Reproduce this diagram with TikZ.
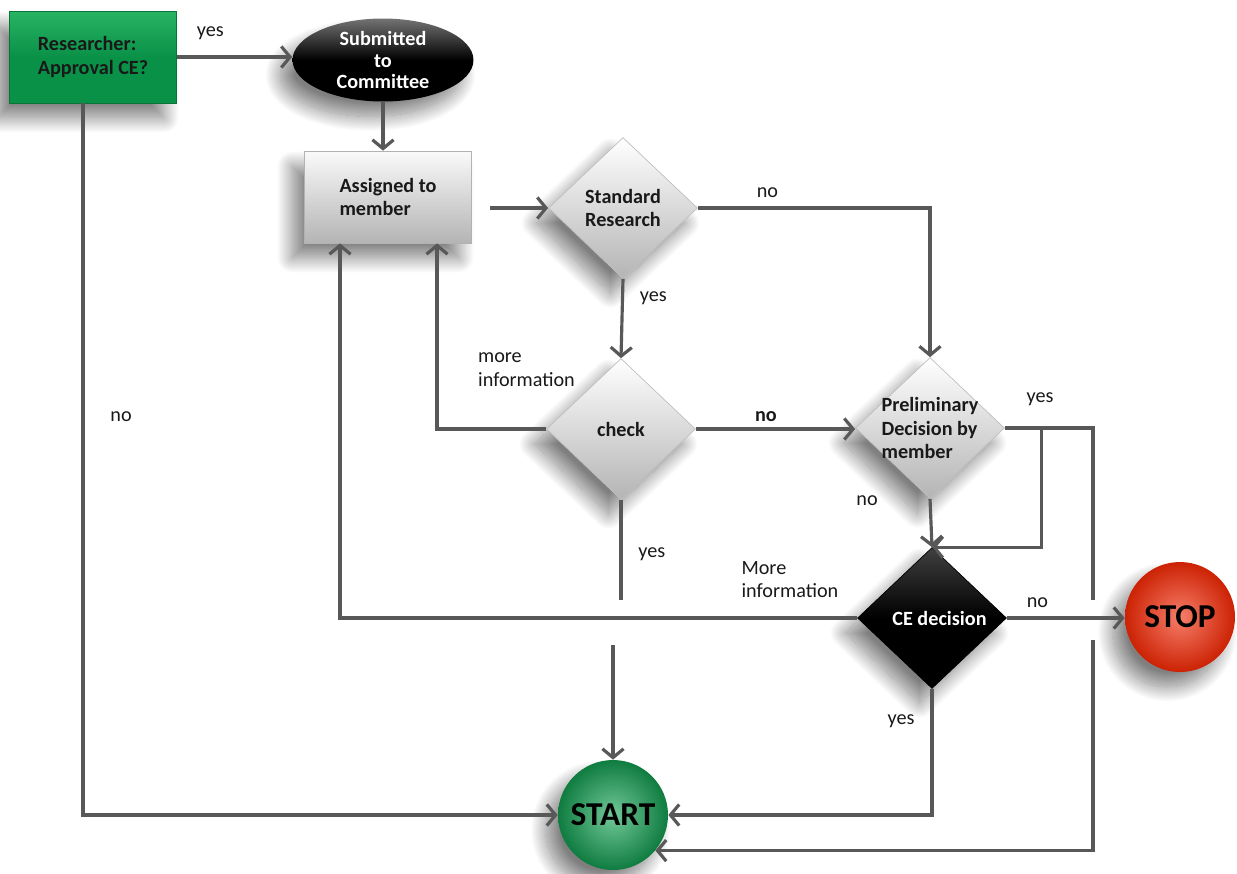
\documentclass[tikz,border=0pt]{standalone}
\usepackage{fontspec}
\setmainfont{Carlito}
\usetikzlibrary{positioning,arrows.meta,shapes.geometric,shadows.blur}
\definecolor{colorline}{RGB}{88,88,88}
\definecolor{colortext}{RGB}{25,25,25}
\definecolor{colorgreen}{RGB}{10,145,72}
\definecolor{colorgreenlight}{RGB}{40,180,100}
\definecolor{colorball}{RGB}{20,165,85}
\definecolor{colorred}{RGB}{240,40,5}
\definecolor{colorgray}{RGB}{180,180,180}

\begin{document}
\begin{tikzpicture}[
    x=0.02cm, y=-0.02cm,
    font={\fontsize{11.5}{13.5}\selectfont},
    >={Straight Barb[length=5pt,width=12pt]},
    flow/.style={->,line width=1.8pt,draw=colorline},
    link/.style={line width=1.8pt,draw=colorline},
    label/.style={text=colortext,align=left,font={\fontsize{11.5}{13.5}\selectfont}},
    shade/.style={blur shadow={shadow xshift=-2.5mm,shadow yshift=-3mm,shadow blur radius=3mm,shadow blur steps=25,shadow opacity=50}},
    process/.style={rectangle,shade,text=colortext,align=left,font={\fontsize{11.5}{13.5}\selectfont\bfseries},
        minimum width=3.34cm,minimum height=1.84cm,draw=gray!60,top color=white!96!gray,bottom color=colorgray},
    start/.style={process,draw=colorgreen!80!black,top color=colorgreenlight,bottom color=colorgreen,middle color=colorgreen},
    decision/.style={diamond,shade,inner sep=-1cm,minimum width=2.98cm,minimum height=2.82cm,align=center,
        text=colortext,font={\fontsize{11.5}{13.5}\selectfont\bfseries},draw=gray!50,top color=white,bottom color=colorgray},
    verdict/.style={decision,draw=black,top color=black!75,bottom color=black,middle color=black,text=white},
    committee/.style={ellipse,shade,minimum width=3.62cm,minimum height=1.66cm,inner sep=0pt,align=center,
        text=white,font={\fontsize{11.5}{12}\selectfont\bfseries},top color=black!55,bottom color=black,middle color=black},
    terminal/.style={circle,shade,minimum size=2.2cm,font={\fontsize{19}{22}\selectfont\bfseries},text=black},
]
    \useasboundingbox (0,0) rectangle (1237,873);

    % Steps
    \node[start]     (researcher) at (93,57)   {Researcher:\\Approval CE?};
    \node[committee] (submitted)  at (383,60)  {Submitted\\to\\Committee};
    \node[process]   (assigned)   at (388,197) {Assigned to\\member};
    \node[decision]  (standard)   at (623,208) {Standard\\Research};
    \node[decision]  (check)      at (621,429) {check};
    \node[decision, align=left] (prelim) at (930,428) {Preliminary\\Decision by\\member};
    \node[verdict]   (cedec)      at (932,618) {\hspace*{0.3cm}CE decision};
    \node[terminal, inner color=colorred!60!white, outer color=colorred!85!black] (stop)  at (1180,617) {STOP};
    \node[terminal, inner color=colorball!60!white, outer color=colorball!75!black] (start) at (613,815) {START};

    % Line hops
    \coordinate (hopA) at (616,600);
    \coordinate (hopB) at (613,645);
    \coordinate (hopC) at (1093,600);
    \coordinate (hopD) at (1093,640);

    % Step relations
    \draw[flow] (researcher.east) -- (researcher.east -| submitted.west) node[label,pos=0.29,above=0.2cm] (yesSubmit) {yes};
    \draw[flow] ([xshift=-0.2cm]researcher.south) |- (start.west) node[label,pos=0.22,right=0.4cm] (noResearcher) {no};
    \draw[flow] (submitted.south) -- (submitted.south |- assigned.north);
    \draw[flow] (standard.west -| assigned.east) ++(18,0) -- (standard.west);

    \draw[flow] (standard.east) -| (prelim.north) node[label,pos=0.15,above=0.05cm] (noStandard) {no};
    \draw[flow] (standard.south) -- (check.north) node[label,pos=0.25,right=0.2cm] (yesStandard) {yes};

    \draw[flow] (check.west) -| ([xshift=0.98cm]assigned.south) node[label,pos=0.09,above=0.7cm] (moreCheck) {more\\information};
    \draw[flow] (check.east) -- (check.east -| prelim.west) node[label,pos=0.44,above,font={\fontsize{11.5}{13.5}\selectfont\bfseries}] (noCheck) {no};
    \draw[link] (check.south) -- (check.south |- hopA) node[label,pos=0.54,right=0.2cm] (yesCheck) {yes};
    \draw[flow] (hopB) -- (start.north);

    \draw[link] (prelim.east) -| (hopC) node[label,pos=0.2,above=0.3cm] (yesPrelim) {yes};
    \draw[flow] ([xshift=0.74cm]prelim.east) |- (cedec.north);
    \draw[flow] (hopD) |- (start.-40);
    \draw[flow] (prelim.south) -- (cedec.north) node[label,pos=0.04,left=0.9cm] (noPrelim) {no};

    \draw[flow] (cedec.west) -| ([xshift=-0.96cm]assigned.south) node[label,pos=0.065,above=0.25cm] (moreDecision) {More\\information};
    \draw[flow] (cedec.east) -- (cedec.east -| stop.west) node[label,pos=0.26,above=0.05cm] (noDecision) {no};
    \draw[flow] (cedec.south) |- (start.east) node[label,pos=0.13,left=0.2cm] (yesDecision) {yes};

\end{tikzpicture}
\end{document}
